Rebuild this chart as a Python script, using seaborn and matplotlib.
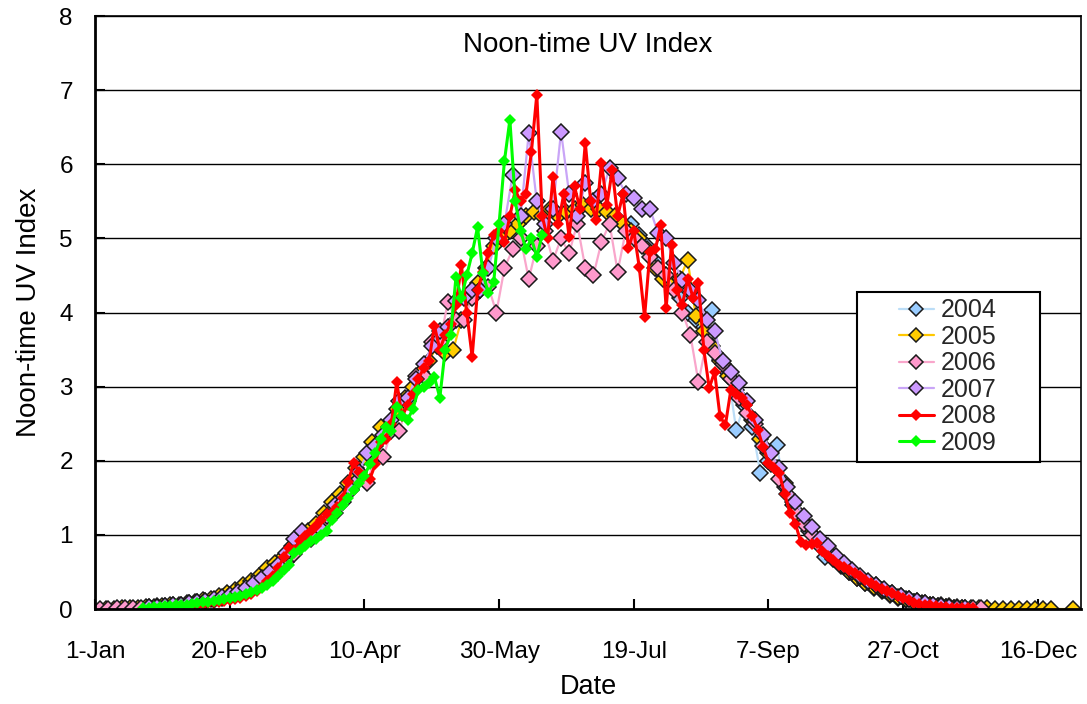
import numpy as np
import pandas as pd
import matplotlib
matplotlib.use("Agg")
import matplotlib.pyplot as plt
from matplotlib.patches import Rectangle
import seaborn as sns

# ---------------- data (day of year, noon-time UV index) ----------------
tick_days = [0, 50, 100, 150, 200, 250, 300, 350]
tick_labels = ["1-Jan", "20-Feb", "10-Apr", "30-May", "19-Jul", "7-Sep", "27-Oct", "16-Dec"]
y_ticks = [0, 1, 2, 3, 4, 5, 6, 7, 8]

years = ["2004", "2005", "2006", "2007", "2008", "2009"]

start_2004, step_2004 = 199, 3
uv_2004 = [5.2, 5.05, 4.9, 4.7, 4.5, 4.35, 4.2, 4.0, 3.9, 3.8, 4.03, 3.36, 3.18, 2.42,
           2.75, 2.45, 1.83, 2.0, 2.21, 1.65, 1.4, 1.2, 1.05, 0.9, 0.7, 0.68, 0.58, 0.5,
           0.42, 0.35, 0.29, 0.24, 0.19, 0.15, 0.12, 0.09, 0.07, 0.05, 0.04, 0.03, 0.02, 0.01]

start_2005, step_2005 = 4, 3
uv_2005 = [0, 0, 0.01, 0.01, 0.02, 0.03, 0.03, 0.04, 0.05, 0.06, 0.08, 0.1, 0.12, 0.14,
           0.17, 0.22, 0.26, 0.32, 0.38, 0.45, 0.55, 0.62, 0.72, 0.85, 0.95, 1.05, 1.15,
           1.3, 1.45, 1.55, 1.7, 1.9, 2.05, 2.25, 2.45, 2.45, 2.7, 2.85, 3.0, 3.2, 3.35,
           3.55, 3.45, 3.5, 3.9, 4.2, 4.4, 4.6, 4.9, 5.0, 5.1, 5.2, 5.3, 5.35, 5.3, 5.4,
           5.3, 5.35, 5.4, 5.45, 5.4, 5.4, 5.35, 5.3, 5.2, 5.1, 5.0, 4.85, 4.6, 4.45, 4.4,
           4.45, 4.71, 3.95, 3.75, 3.55, 3.35, 3.15, 2.95, 2.8, 2.55, 2.3, 2.1, 1.9, 1.7,
           1.45, 1.25, 1.1, 0.95, 0.82, 0.7, 0.6, 0.5, 0.42, 0.35, 0.3, 0.25, 0.2, 0.16,
           0.13, 0.1, 0.08, 0.06, 0.04, 0.03, 0.02, 0.02, 0.01, 0.01, 0.01, 0, 0, 0, 0, 0,
           0, 0, 0]
extra_day_2005, extra_uv_2005 = 363, 0.0

start_2006, step_2006 = 2, 3
uv_2006 = [0, 0, 0.01, 0.01, 0.02, 0.02, 0.03, 0.04, 0.04, 0.05, 0.06, 0.08, 0.09, 0.11,
           0.12, 0.15, 0.17, 0.21, 0.25, 0.31, 0.37, 0.45, 0.52, 0.64, 0.74, 0.9, 0.95,
           1.05, 1.2, 1.3, 1.5, 1.62, 1.75, 1.7, 2.05, 2.05, 2.4, 2.4, 2.8, 3.15, 3.15, 3.6,
           3.6, 4.14, 3.9, 3.9, 4.2, 4.3, 4.35, 4.0, 4.6, 4.85, 5.0, 4.45, 4.9, 5.1, 4.7,
           5.0, 4.8, 5.2, 4.6, 4.5, 4.95, 5.2, 4.55, 5.1, 5.0, 4.9, 4.75, 4.6, 4.5, 4.3,
           4.0, 3.7, 3.06, 3.6, 3.45, 3.3, 3.1, 2.85, 2.65, 2.5, 2.2, 1.95, 1.75, 1.55, 1.3,
           1.15, 1.0, 0.85, 0.75, 0.66, 0.58, 0.5, 0.43, 0.37, 0.32, 0.26, 0.21, 0.17, 0.14,
           0.11, 0.08, 0.06, 0.05, 0.04, 0.03, 0.02, 0.02, 0.01]

start_2007, step_2007 = 20, 3
uv_2007 = [0.03, 0.03, 0.04, 0.05, 0.06, 0.08, 0.1, 0.11, 0.13, 0.16, 0.19, 0.23, 0.28,
           0.35, 0.42, 0.5, 0.6, 0.75, 0.95, 1.05, 1.0, 1.1, 1.25, 1.4, 1.45, 1.6, 1.85,
           2.1, 2.2, 2.35, 2.55, 2.8, 2.85, 3.1, 3.3, 3.55, 3.75, 3.8, 4.15, 4.2, 4.3, 4.3,
           4.6, 5.0, 5.2, 5.85, 5.3, 6.42, 5.5, 5.2, 5.4, 6.44, 5.6, 5.3, 5.75, 5.5, 5.6,
           5.95, 5.82, 5.6, 5.55, 5.4, 5.4, 5.07, 5.0, 4.67, 4.44, 4.3, 4.17, 3.9, 3.75,
           3.35, 3.2, 3.05, 2.8, 2.55, 2.35, 2.1, 1.9, 1.65, 1.45, 1.25, 1.1, 0.95, 0.85,
           0.72, 0.62, 0.53, 0.45, 0.38, 0.32, 0.27, 0.22, 0.17, 0.14, 0.11, 0.08, 0.06,
           0.04, 0.03, 0.02, 0.01]

start_2008, step_2008 = 30, 2
uv_2008 = [0.03, 0.04, 0.04, 0.05, 0.06, 0.07, 0.08, 0.09, 0.1, 0.11, 0.12, 0.13, 0.15,
           0.17, 0.2, 0.24, 0.3, 0.38, 0.45, 0.55, 0.7, 0.82, 0.8, 0.92, 0.98, 1.05, 1.12,
           1.2, 1.28, 1.3, 1.38, 1.5, 1.72, 1.97, 1.85, 1.8, 1.75, 1.95, 2.25, 2.3, 2.5,
           3.06, 2.6, 2.75, 2.9, 3.1, 3.25, 3.35, 3.82, 3.5, 3.7, 3.85, 4.1, 4.64, 4.0, 3.4,
           4.3, 4.55, 4.8, 5.05, 5.1, 4.95, 5.3, 5.65, 5.5, 5.6, 6.17, 6.94, 5.3, 5.0, 5.83,
           5.2, 5.6, 5.02, 5.7, 5.4, 6.29, 5.5, 5.25, 6.02, 5.45, 5.92, 5.3, 5.6, 4.87, 5.1,
           4.62, 3.94, 4.82, 4.85, 5.18, 4.06, 4.91, 4.3, 4.1, 4.45, 4.2, 4.4, 3.5, 2.98,
           3.2, 2.6, 2.48, 2.95, 2.9, 2.85, 2.75, 2.6, 2.42, 2.19, 1.97, 1.9, 1.83, 1.55,
           1.3, 1.15, 0.9, 0.86, 0.88, 0.89, 0.78, 0.72, 0.66, 0.6, 0.57, 0.52, 0.48, 0.44,
           0.39, 0.35, 0.31, 0.27, 0.24, 0.22, 0.18, 0.15, 0.12, 0.08, 0.07, 0.06, 0.05,
           0.04, 0.03, 0.03, 0.02, 0.02, 0.01, 0.01, 0.01]

start_2009, step_2009 = 18, 2
uv_2009 = [0.02, 0.02, 0.03, 0.03, 0.04, 0.04, 0.05, 0.05, 0.06, 0.07, 0.08, 0.09, 0.1,
           0.11, 0.12, 0.13, 0.15, 0.16, 0.18, 0.2, 0.23, 0.26, 0.29, 0.33, 0.38, 0.45,
           0.52, 0.6, 0.75, 0.8, 0.85, 0.92, 0.95, 1.0, 1.05, 1.2, 1.3, 1.4, 1.5, 1.6,
           1.7, 1.8, 1.95, 2.1, 2.3, 2.45, 2.4, 2.73, 2.6, 2.55, 2.7, 2.95, 3.0, 3.05,
           3.13, 2.85, 3.5, 3.7, 4.48, 4.2, 4.5, 4.8, 5.15, 4.53, 4.26, 4.41, 5.2, 6.05,
           6.6, 5.5, 5.1, 4.85, 5.0, 4.75, 5.05]

# ---------------- styling ----------------
sns.set_theme(style="white")
plt.rcParams["font.family"] = ["Liberation Sans", "DejaVu Sans"]

marker_colors = {"2004": "#99CCFF", "2005": "#FFCC00", "2006": "#FF99CC",
                 "2007": "#CC99FF", "2008": "#FF0000", "2009": "#00FF00"}
line_colors = {"2004": "#BBDDF7", "2005": "#FFC800", "2006": "#F9A6CB",
               "2007": "#C9A5F7", "2008": "#FF0000", "2009": "#00FF00"}

series = {
    "2004": (start_2004, step_2004, uv_2004, None),
    "2005": (start_2005, step_2005, uv_2005, (extra_day_2005, extra_uv_2005)),
    "2006": (start_2006, step_2006, uv_2006, None),
    "2007": (start_2007, step_2007, uv_2007, None),
    "2008": (start_2008, step_2008, uv_2008, None),
    "2009": (start_2009, step_2009, uv_2009, None),
}

fig = plt.figure(figsize=(10.87, 7.04), dpi=100)
ax = fig.add_axes([95 / 1087, 1 - 609 / 704, (1081 - 95) / 1087, (609 - 16) / 704])

handles = []
for yr in years:
    start, step, vals, extra = series[yr]
    days = list(start + step * np.arange(len(vals)))
    vals = list(vals)
    if extra is not None:
        days.append(extra[0])
        vals.append(extra[1])
    df = pd.DataFrame({"day": days, "uv": vals})
    edged = yr in ("2004", "2005", "2006", "2007")
    kw = dict(marker="D", markersize=7.8 if edged else 6.2,
              markerfacecolor=marker_colors[yr],
              markeredgecolor="#1a1a1a" if edged else marker_colors[yr],
              markeredgewidth=1.1 if edged else 0.0,
              color=line_colors[yr], linewidth=1.6 if edged else 2.2)
    sns.lineplot(data=df, x="day", y="uv", ax=ax, estimator=None, sort=False,
                 legend=False, **kw)
    hkw = dict(kw)
    hkw["markersize"] = 7.0 if edged else 6.0
    handles.append(plt.Line2D([], [], label=yr, **hkw))

ax.set_xlim(0, 366)
ax.set_ylim(0, 8)
ax.set_xticks(tick_days)
ax.set_xticklabels(tick_labels)
ax.set_yticks(y_ticks)
ax.grid(axis="y", color="black", linewidth=1.0)
ax.grid(axis="x", visible=False)
ax.set_axisbelow(True)
for side in ["left", "bottom"]:
    ax.spines[side].set_color("black")
    ax.spines[side].set_linewidth(2.0)
for side in ["top", "right"]:
    ax.spines[side].set_color("black")
    ax.spines[side].set_linewidth(1.2)
ax.tick_params(axis="x", direction="in", length=7, width=1.5, pad=23,
               labelsize=17.5, colors="black", bottom=True)
ax.tick_params(axis="y", direction="in", length=7, width=1.5, pad=16,
               labelsize=17.5, colors="black", left=True)
ax.set_xlabel("Date", fontsize=19.5, labelpad=8, color="black")
ax.set_ylabel("Noon-time UV Index", fontsize=20, labelpad=12, color="black")
ax.text(0.5, 0.951, "Noon-time UV Index", transform=ax.transAxes,
        ha="center", va="center", fontsize=20, color="black")

# legend box
ax.add_patch(Rectangle((0.773, 0.248), 0.185, 0.2866, transform=ax.transAxes,
                       facecolor="white", edgecolor="black", linewidth=1.5, zorder=10))
leg = ax.legend(handles=handles, loc="upper left", bbox_to_anchor=(0.815, 0.524),
                frameon=False, fontsize=18, handlelength=1.4, handletextpad=0.3,
                labelspacing=0.1, borderpad=0.0, borderaxespad=0.0)
leg.set_zorder(11)

fig.savefig("out.png", dpi=100)
